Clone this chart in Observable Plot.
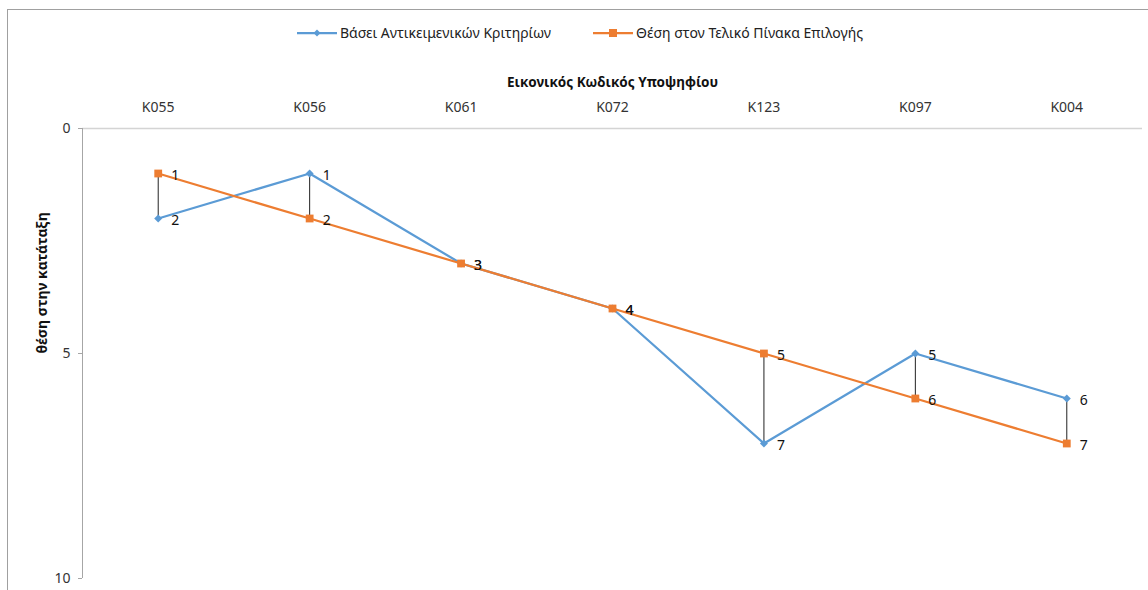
<!DOCTYPE html>
<html>
<head>
<meta charset="utf-8">
<script src="https://cdn.jsdelivr.net/npm/d3@7"></script>
<script src="https://cdn.jsdelivr.net/npm/@observablehq/plot@0.6"></script>
<style>
  html, body { margin: 0; padding: 0; background: #fff; }
  #wrap { position: relative; width: 1148px; height: 590px; overflow: hidden; font-family: "Noto Sans", "Open Sans", sans-serif; }
  #frame { position: absolute; left: 7px; top: 9px; width: 1300px; height: 800px; border: 1px solid #a0a0a0; box-sizing: border-box; }
  #chart { position: absolute; left: 0; top: 0; }
  #legend { position: absolute; top: 23px; left: 0; width: 1160px; display: flex; justify-content: center; gap: 42px; font-size: 14px; color: #222; }
  .item { display: flex; align-items: center; gap: 3px; white-space: nowrap; }
</style>
</head>
<body>
<div id="wrap">
  <div id="frame"></div>
  <div id="chart"></div>
  <div id="legend"></div>
</div>
<script>
const candidates = ["K055", "K056", "K061", "K072", "K123", "K097", "K004"];
const objectiveRank = [2, 1, 3, 4, 7, 5, 6];
const finalRank = [1, 2, 3, 4, 5, 6, 7];
const yTicks = [0, 5, 10];
const seriesNames = ["Βάσει Αντικειμενικών Κριτηρίων", "Θέση στον Τελικό Πίνακα Επιλογής"];
const xTitle = "Εικονικός Κωδικός Υποψηφίου";
const yTitle = "θέση στην κατάταξη";

const blue = "#5B9BD5";
const orange = "#ED7D31";

const W = 1148, H = 590, ML = 82, MR = 6, MT = 128, MB = 12;

const objRows = candidates.map((c, i) => ({c, v: objectiveRank[i]}));
const finRows = candidates.map((c, i) => ({c, v: finalRank[i]}));
const dropRows = candidates.map((c, i) => ({c, lo: Math.min(objectiveRank[i], finalRank[i]), hi: Math.max(objectiveRank[i], finalRank[i])}));

const plot = Plot.plot({
  width: W,
  height: H,
  marginLeft: ML,
  marginRight: MR,
  marginTop: MT,
  marginBottom: MB,
  style: {fontFamily: "'Noto Sans', 'Open Sans', sans-serif", fontSize: "14px", color: "#333", background: "transparent"},
  x: {type: "band", domain: candidates, padding: 0, round: false},
  y: {domain: [0, 10], reverse: true},
  marks: [
    Plot.ruleY([0], {stroke: "#d4d4d4", strokeWidth: 1.5}),
    // vertical axis line at left edge of the frame (centre of frame shifted left)
    Plot.ruleX([0], {x: null, stroke: "#a6a6a6", strokeWidth: 1, dx: -((W - MR - ML) / 2)}),
    Plot.axisX({anchor: "top", tickSize: 0, tickPadding: 17, label: null, fontSize: 14, fill: "#333"}),
    Plot.axisY({ticks: yTicks, tickSize: 4, tickPadding: 8, stroke: "#a6a6a6", label: null, fontSize: 14, fill: "#333"}),
    Plot.text([xTitle], {frameAnchor: "top", dy: -51, fontWeight: "bold", fontSize: 13.5, fill: "#111"}),
    Plot.text([yTitle], {frameAnchor: "left", dx: -40, rotate: -90, fontWeight: "bold", fontSize: 14, fill: "#111"}),
    Plot.ruleX(dropRows, {x: "c", y1: "lo", y2: "hi", stroke: "#222", strokeWidth: 1}),
    Plot.line(objRows, {x: "c", y: "v", stroke: blue, strokeWidth: 2.25}),
    Plot.line(finRows, {x: "c", y: "v", stroke: orange, strokeWidth: 2.25}),
    Plot.dot(objRows, {x: "c", y: "v", symbol: "diamond2", r: 3.6, fill: blue, stroke: null}),
    Plot.dot(finRows, {x: "c", y: "v", symbol: "square", r: 4.4, fill: orange, stroke: null}),
    Plot.text(objRows, {x: "c", y: "v", text: d => String(d.v), textAnchor: "start", dx: 13, dy: 2, fontSize: 14, fill: "#111"}),
    Plot.text(finRows, {x: "c", y: "v", text: d => String(d.v), textAnchor: "start", dx: 13, dy: 2, fontSize: 14, fill: "#111"})
  ]
});
document.getElementById("chart").appendChild(plot);

// legend
const legend = document.getElementById("legend");
const markers = [
  `<svg width="40" height="10"><line x1="0" y1="5" x2="40" y2="5" stroke="${blue}" stroke-width="2.25"/><path d="M20,1.5 L23.5,5 L20,8.5 L16.5,5 Z" fill="${blue}"/></svg>`,
  `<svg width="40" height="10"><line x1="0" y1="5" x2="40" y2="5" stroke="${orange}" stroke-width="2.25"/><rect x="16" y="1" width="8" height="8" fill="${orange}"/></svg>`
];
seriesNames.forEach((name, i) => {
  const el = document.createElement("div");
  el.className = "item";
  el.innerHTML = markers[i] + `<span>${name}</span>`;
  legend.appendChild(el);
});
</script>
</body>
</html>
